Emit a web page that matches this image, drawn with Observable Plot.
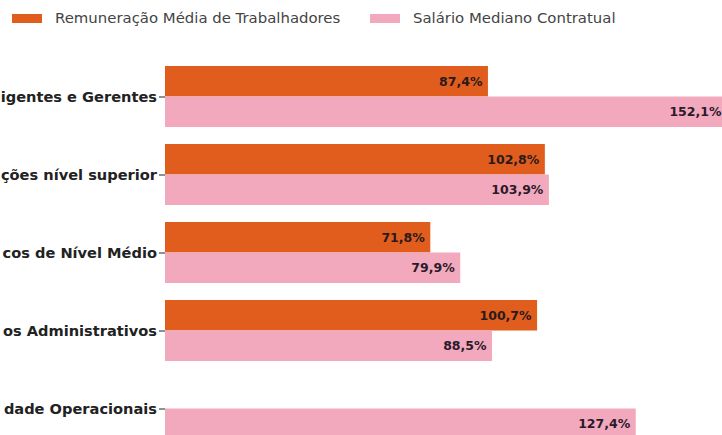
<!DOCTYPE html>
<html>
<head>
<meta charset="utf-8">
<script src="https://cdn.jsdelivr.net/npm/d3@7"></script>
<script src="https://cdn.jsdelivr.net/npm/@observablehq/plot@0.6"></script>
<style>
  html, body { margin: 0; padding: 0; background: #fff; overflow: hidden; width: 722px; height: 435px; }
  #legend { position: relative; height: 36px; font-family: "DejaVu Sans", sans-serif; font-size: 14.9px; color: #444; }
  #legend .sw { position: absolute; top: 14px; width: 30px; height: 9px; }
  #legend .lt { position: absolute; top: 9px; line-height: 18px; white-space: nowrap; }
  #chart { position: relative; }
</style>
</head>
<body>
<div id="legend"></div>
<div id="chart"></div>
<script>
// Category labels as they are visible in the (cropped) reference
const categories = [
  "igentes e Gerentes",
  "ções nível superior",
  "cos de Nível Médio",
  "os Administrativos",
  "dade Operacionais"
];
const seriesNames = ["Remuneração Média de Trabalhadores", "Salário Mediano Contratual"];
const remuneracaoMedia = [87.4, 102.8, 71.8, 100.7, null];
const salarioMediano = [152.1, 103.9, 79.9, 88.5, 127.4];
const colors = ["#E05D1E", "#F2A9BE"];

// Legend
const legend = document.getElementById("legend");
const legendPos = [[12, 55], [370, 413]];
seriesNames.forEach((name, i) => {
  const sw = document.createElement("div");
  sw.className = "sw";
  sw.style.left = legendPos[i][0] + "px";
  sw.style.background = colors[i];
  legend.appendChild(sw);
  const t = document.createElement("div");
  t.className = "lt";
  t.style.left = legendPos[i][1] + "px";
  t.textContent = name;
  legend.appendChild(t);
});

const rem = categories.map((c, i) => ({cat: c, value: remuneracaoMedia[i]})).filter(d => d.value != null);
const sal = categories.map((c, i) => ({cat: c, value: salarioMediano[i]})).filter(d => d.value != null);
const fmt = v => v.toFixed(1).replace(".", ",") + "%";

const step = 78;
const band = 61;
const half = band / 2;

const plot = Plot.plot({
  width: 747,
  height: 421.5,
  marginLeft: 165,
  marginRight: 20,
  marginTop: 21.5,
  marginBottom: 10,
  style: {maxWidth: "none", fontFamily: "DejaVu Sans, sans-serif", background: "#fff"},
  x: {axis: null},
  y: {domain: categories, paddingInner: (step - band) / step, paddingOuter: (step - band) / 2 / step, axis: null},
  marks: [
    Plot.barX(rem, {x: "value", y: "cat", fill: colors[0], insetBottom: half}),
    Plot.barX(sal, {x: "value", y: "cat", fill: colors[1], insetTop: half}),
    Plot.text(rem, {x: "value", y: "cat", text: d => fmt(d.value), textAnchor: "end", dx: -6, dy: -half / 2, fontWeight: "bold", fontSize: 12.5, fill: "#2a1a1a"}),
    Plot.text(sal, {x: "value", y: "cat", text: d => fmt(d.value), textAnchor: "end", dx: -6, dy: half / 2, fontWeight: "bold", fontSize: 12.5, fill: "#2a1a2a"}),
    Plot.axisY({tickSize: 6, tickPadding: 2.5, fontSize: 14.6, fontWeight: "bold", label: null, color: "#222"})
  ]
});
document.getElementById("chart").appendChild(plot);
</script>
</body>
</html>
